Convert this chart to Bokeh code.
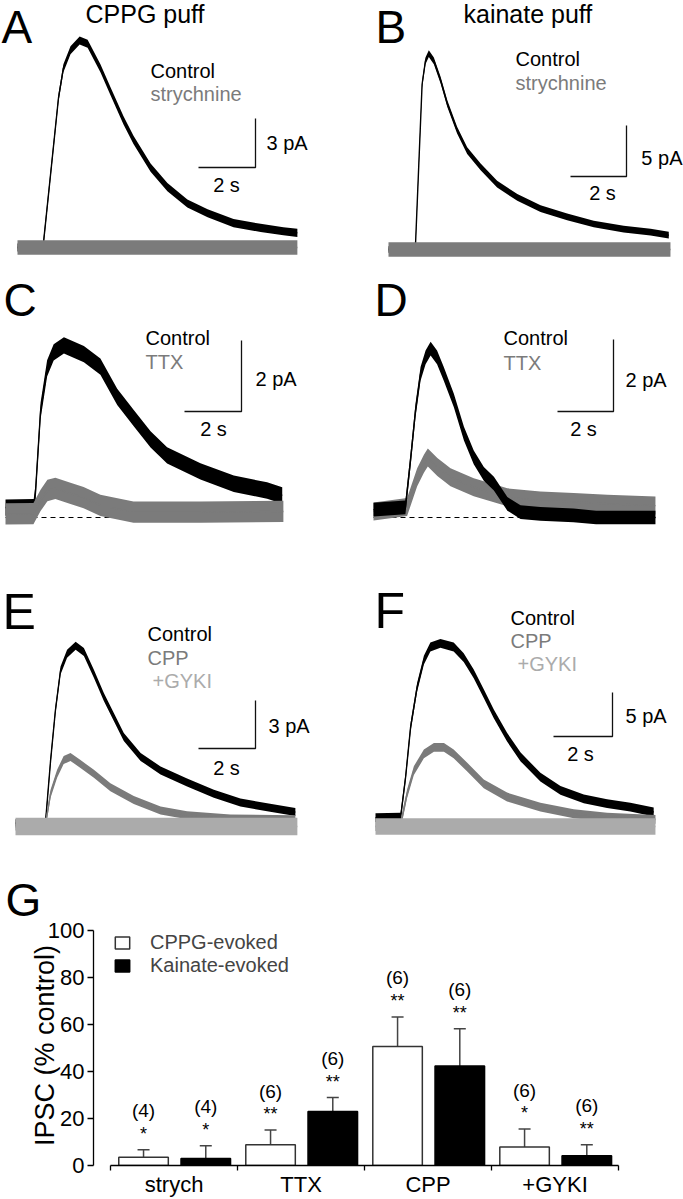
import numpy as np
from bokeh.plotting import figure
from bokeh.models import (Range1d, Label, Whisker, TeeHead, ColumnDataSource,
                          FixedTicker, Legend, LegendItem, Title)
from bokeh.layouts import column, row
from bokeh.embed import file_html
from bokeh.resources import INLINE
from bokeh.core.properties import value

# ---------------- data: traces (time in s, current in pA)
a_ctrl_t = [0, 0.9, 1.44, 1.61, 1.86, 2.18, 2.46, 2.91, 3.26, 3.72, 4.07, 4.67, 5.26, 5.96, 6.67, 7.58, 8.53, 9.33, 9.82]
a_ctrl_i = [0, 0.1, 9.2, 11.0, 12.1, 12.7, 12.5, 11.0, 9.6, 7.8, 6.6, 4.9, 3.7, 2.7, 2.1, 1.5, 1.2, 1.0, 0.9]
a_stry_t = [0, 9.82]
a_stry_i = [0, 0]

b_ctrl_t = [0, 0.96, 1.20, 1.32, 1.44, 1.62, 1.86, 2.10, 2.45, 2.81, 3.29, 3.88, 4.60, 5.43, 6.38, 7.33, 8.40, 9.36, 10.01]
b_ctrl_i = [0, 0.2, 16.2, 18.5, 19.2, 18.5, 16.6, 14.3, 11.7, 9.7, 8.1, 6.4, 5.1, 4.0, 3.2, 2.5, 2.0, 1.7, 1.4]
b_stry_t = [0, 10.07]
b_stry_i = [0, 0]

c_ctrl_t = [0, 0.99, 1.05, 1.23, 1.46, 1.69, 2.05, 2.75, 3.33, 3.92, 4.50, 5.09, 5.67, 6.84, 8.01, 9.18, 9.71]
c_ctrl_i = [0.28, 0.29, 0.68, 3.0, 4.2, 4.65, 4.85, 4.6, 4.25, 3.4, 2.8, 2.2, 1.75, 1.3, 0.95, 0.76, 0.62]
c_ttx_t = [0, 0.98, 1.23, 1.47, 1.75, 2.28, 2.74, 3.33, 4.49, 6.84, 9.75]
c_ttx_i = [0.1, 0.11, 0.48, 0.76, 0.82, 0.68, 0.56, 0.34, 0.15, 0.15, 0.17]

d_ctrl_t = [0, 1.14, 1.32, 1.50, 1.68, 1.86, 2.04, 2.27, 2.51, 2.87, 3.23, 3.58, 3.94, 4.30, 4.78, 5.25, 5.96, 7.14, 7.95, 10.07]
d_ctrl_i = [0.22, 0.28, 1.58, 2.97, 3.99, 4.45, 4.69, 4.45, 3.99, 3.25, 2.33, 1.67, 1.21, 0.94, 0.38, 0.15, 0.10, 0.06, 0.0, 0.0]
d_ttx_t = [0, 1.2, 1.56, 1.80, 1.94, 2.28, 2.75, 3.58, 4.18, 4.78, 5.96, 7.15, 8.35, 10.07]
d_ttx_i = [0.17, 0.29, 1.12, 1.49, 1.67, 1.40, 1.12, 0.84, 0.70, 0.56, 0.47, 0.43, 0.38, 0.33]

e_ctrl_t = [0, 1.05, 1.23, 1.40, 1.58, 1.81, 2.11, 2.40, 2.75, 3.10, 3.45, 3.80, 4.39, 5.09, 6.02, 6.96, 7.89, 8.83, 9.82]
e_ctrl_i = [0.2, 0.2, 4.1, 7.25, 9.75, 10.8, 11.3, 10.9, 9.55, 8.1, 6.85, 5.6, 4.35, 3.5, 2.75, 2.05, 1.5, 1.2, 0.9]
e_cpp_t = [0, 1.05, 1.23, 1.46, 1.69, 1.93, 2.28, 2.75, 3.33, 4.15, 5.09, 6.02, 7.54, 9.82]
e_cpp_i = [0, 0.1, 2.05, 3.3, 4.15, 4.35, 3.9, 3.3, 2.45, 1.65, 1.0, 0.7, 0.5, 0.45]
e_gyki_t = [0, 9.89]
e_gyki_i = [0, 0]

f_ctrl_t = [0, 0.85, 1.02, 1.19, 1.41, 1.64, 1.86, 2.20, 2.65, 2.99, 3.33, 3.67, 4.01, 4.46, 4.92, 5.59, 6.27, 7.06, 7.85, 8.64, 9.43]
f_ctrl_i = [1.0, 1.05, 5.6, 11.3, 15.8, 18.9, 20.4, 20.8, 20.4, 19.2, 17.35, 15.1, 12.8, 10.15, 7.9, 5.6, 4.1, 3.15, 2.6, 2.2, 1.65]
f_cpp_t = [0, 0.85, 1.07, 1.30, 1.64, 1.98, 2.32, 2.65, 3.11, 3.67, 4.46, 5.59, 6.72, 7.85, 9.49]
f_cpp_i = [0, 0.2, 3.7, 6.35, 8.25, 9.0, 9.0, 8.25, 6.75, 4.85, 3.35, 2.2, 1.45, 1.05, 0.8]
f_gyki_t = [0, 9.49]
f_gyki_i = [0, 0]

# ---------------- data: summary bar chart (G)
categories = ["strych", "TTX", "CPP", "+GYKI"]
cppg_mean = [3.5, 8.8, 50.6, 7.9]
cppg_sem = [3.2, 6.3, 12.6, 7.6]
kain_mean = [3.0, 23.0, 42.3, 4.2]
kain_sem = [5.4, 5.9, 15.9, 4.6]
cppg_n = ["(4)", "(6)", "(6)", "(6)"]
kain_n = ["(4)", "(6)", "(6)", "(6)"]
cppg_sig = ["*", "**", "**", "*"]
kain_sig = ["*", "**", "**", "**"]
series_names = ["CPPG-evoked", "Kainate-evoked"]

# ---------------- styles
FONT = "Liberation Sans"
INK = "#000000"
GRAY = "#7b7b7b"
LIGHT = "#ababab"
BAR_LINE = "#333333"


class Panel:
    """A trace panel without axes; pixel layout -> data ranges."""
    def __init__(self, w, h, t0, sx, y0, sy):
        self.t0, self.sx, self.y0, self.sy = t0, sx, y0, sy
        self.p = figure(width=w, height=h,
                        x_range=Range1d(-t0 / sx, (w - t0) / sx),
                        y_range=Range1d(-(h - y0) / sy, y0 / sy),
                        output_backend="svg", toolbar_location=None,
                        x_axis_type=None, y_axis_type=None, min_border=0)
        self.p.outline_line_color = None
        self.p.grid.visible = False

    def pos(self, x, y):
        return (x - self.t0) / self.sx, (self.y0 - y) / self.sy

    def text(self, x, y, s, size=20, color=INK, align="left"):
        dx, dy = self.pos(x, y)
        self.p.add_layout(Label(x=dx, y=dy, text=s, text_font=FONT,
                                text_font_size=f"{size}px", text_color=color,
                                text_align=align, text_baseline="middle"))

    def trace(self, t, i, noise, color):
        t = np.asarray(t, float)
        i = np.asarray(i, float)
        self.p.varea(x=t, y1=i - noise, y2=i + noise, fill_color=color)
        self.p.line(t, i, line_color=color, line_width=1.4)

    def scalebar(self, x, y, dt, di):
        ct, ci = self.pos(x, y)
        self.p.line([ct - dt, ct, ct], [ci, ci, ci + di],
                    line_color="#111111", line_width=1.3)

    def dashed(self, t_end):
        self.p.line([0, t_end], [0, 0], line_dash="5 4",
                    line_color=INK, line_width=1.2)


# ---- A
pa = Panel(341, 262, t0=17, sx=28.5, y0=247, sy=16.3)
pa.trace(a_ctrl_t, a_ctrl_i, 0.25, INK)
pa.trace(a_stry_t, a_stry_i, 0.45, GRAY)
pa.text(1, 26, "A", 46)
pa.text(85, 13, "CPPG puff", 25)
pa.text(150, 70, "Control")
pa.text(150, 93, "strychnine", color=GRAY)
pa.scalebar(255, 167, 2, 3)
pa.text(266, 142, "3 pA")
pa.text(226, 184, "2 s", align="center")

# ---- B
pb = Panel(342, 262, t0=47, sx=28, y0=249, sy=10.2)
pb.trace(b_ctrl_t, b_ctrl_i, 0.33, INK)
pb.trace(b_stry_t, b_stry_i, 0.72, GRAY)
pb.text(34, 26, "B", 46)
pb.text(122, 13, "kainate puff", 25)
pb.text(174, 58, "Control")
pb.text(174, 82, "strychnine", color=GRAY)
pb.scalebar(285, 176, 2, 5)
pb.text(341, 157, "5 pA", align="right")
pb.text(261, 192, "2 s", align="center")

# ---- C
pc = Panel(341, 298, t0=5, sx=28.5, y0=255, sy=35.5)
pc.dashed(c_ttx_t[-1])
pc.trace(c_ctrl_t, c_ctrl_i, 0.23, INK)
pc.trace(c_ttx_t, c_ttx_i, 0.3, GRAY)
pc.text(3, 37, "C", 46)
pc.text(145, 75, "Control")
pc.text(145, 99, "TTX", color=GRAY)
pc.scalebar(241, 149, 2, 2)
pc.text(255, 116, "2 pA")
pc.text(213, 166, "2 s", align="center")

# ---- D
pd = Panel(342, 298, t0=32, sx=28, y0=255, sy=36)
pd.dashed(d_ttx_t[-1])
pd.trace(d_ttx_t, d_ttx_i, 0.25, GRAY)
pd.trace(d_ctrl_t, d_ctrl_i, 0.19, INK)
pd.text(33, 37, "D", 46)
pd.text(162, 75, "Control")
pd.text(162, 100, "TTX", color=GRAY)
pd.scalebar(272, 149, 2, 2)
pd.text(284, 117, "2 pA")
pd.text(242, 166, "2 s", align="center")

# ---- E
pe = Panel(341, 280, t0=15, sx=28.5, y0=266, sy=16)
pe.trace(e_ctrl_t, e_ctrl_i, 0.25, INK)
pe.trace(e_cpp_t, e_cpp_i, 0.25, GRAY)
pe.trace(e_gyki_t, e_gyki_i, 0.55, LIGHT)
pe.text(2, 51, "E", 50)
pe.text(147, 73, "Control")
pe.text(147, 97, "CPP", color=GRAY)
pe.text(152, 120, "+GYKI", color=LIGHT)
pe.scalebar(255, 188, 2, 3)
pe.text(268, 165, "3 pA")
pe.text(226, 207, "2 s", align="center")

# ---- F
pf = Panel(342, 280, t0=34, sx=29.5, y0=266, sy=8.8)
pf.trace(f_ctrl_t, f_ctrl_i, 0.5, INK)
pf.trace(f_cpp_t, f_cpp_i, 0.5, GRAY)
pf.trace(f_gyki_t, f_gyki_i, 0.95, LIGHT)
pf.text(33, 50, "F", 50)
pf.text(169, 57, "Control")
pf.text(169, 80, "CPP", color=GRAY)
pf.text(176, 103, "+GYKI", color=LIGHT)
pf.scalebar(271, 176, 2, 5)
pf.text(284, 155, "5 pA")
pf.text(239, 193, "2 s", align="center")

# ---- G : bar chart
pg = figure(width=683, height=359, x_range=Range1d(-0.134, 4.094),
            y_range=Range1d(0, 102.1), output_backend="svg",
            toolbar_location=None, min_border_left=93, min_border_right=53,
            min_border_top=85, min_border_bottom=30)
pg.outline_line_color = None
pg.grid.visible = False
pg.title = Title(text="G", align="left", offset=-88, standoff=0,
                 text_font=FONT, text_font_size="46px",
                 text_font_style="normal", text_color=INK)

idx = np.arange(len(categories))
src_c = ColumnDataSource(dict(x=idx + 0.26, top=cppg_mean,
                              upper=np.add(cppg_mean, cppg_sem),
                              n=cppg_n, sig=cppg_sig))
src_k = ColumnDataSource(dict(x=idx + 0.75, top=kain_mean,
                              upper=np.add(kain_mean, kain_sem),
                              n=kain_n, sig=kain_sig))

r_c = pg.vbar(x="x", top="top", bottom=0, width=0.39, source=src_c,
              fill_color="white", line_color=BAR_LINE, line_width=1.5)
r_k = pg.vbar(x="x", top="top", bottom=0, width=0.39, source=src_k,
              fill_color=INK, line_color=INK, line_width=1.5)

for src in (src_c, src_k):
    pg.add_layout(Whisker(source=src, base="x", lower="top", upper="upper",
                          line_color="#444444", line_width=1.5,
                          upper_head=TeeHead(size=12, line_color="#444444",
                                             line_width=1.5),
                          lower_head=None))
    pg.text(x="x", y="upper", text="n", source=src, y_offset=-39,
            text_font=value(FONT), text_font_size="19px",
            text_align="center", text_baseline="middle", text_color=INK)
    pg.text(x="x", y="upper", text="sig", source=src, y_offset=-16,
            text_font=value(FONT), text_font_size="18px",
            text_align="center", text_baseline="middle", text_color=INK)

legend = Legend(items=[LegendItem(label=series_names[0], renderers=[r_c]),
                       LegendItem(label=series_names[1], renderers=[r_k])],
                location=(20, 188), glyph_width=18, glyph_height=15,
                label_standoff=19, spacing=0, padding=0, margin=0,
                border_line_color=None, background_fill_alpha=0,
                label_text_font=FONT, label_text_font_size="20px",
                label_height=23)
pg.add_layout(legend)

yax = pg.yaxis[0]
yax.ticker = FixedTicker(ticks=[0, 20, 40, 60, 80, 100])
yax.bounds = (0, 100)
yax.major_tick_out = 6
yax.major_tick_in = 0
yax.minor_tick_line_color = None
yax.axis_line_width = 1.3
yax.major_tick_line_width = 1.3
yax.major_label_standoff = 3
yax.major_label_text_font = FONT
yax.major_label_text_font_size = "22px"
yax.major_label_text_color = INK
yax.axis_label = "IPSC (% control)"
yax.axis_label_text_font = FONT
yax.axis_label_text_font_size = "27px"
yax.axis_label_text_font_style = "normal"
yax.axis_label_text_color = INK
yax.axis_label_standoff = -15

xax = pg.xaxis[0]
xax.ticker = FixedTicker(ticks=list(idx + 0.5), minor_ticks=list(range(len(categories) + 1)))
xax.major_label_overrides = {float(i + 0.5): c for i, c in enumerate(categories)}
xax.bounds = (0, len(categories))
xax.major_tick_line_color = None
xax.major_tick_out = 0
xax.major_tick_in = 0
xax.minor_tick_out = 5
xax.minor_tick_in = 0
xax.minor_tick_line_width = 1.3
xax.axis_line_width = 1.3
xax.major_label_standoff = 1
xax.major_label_text_font = FONT
xax.major_label_text_font_size = "22px"
xax.major_label_text_color = INK

layout = column(row(pa.p, pb.p), row(pc.p, pd.p), row(pe.p, pf.p), pg)

with open("out.html", "w") as fh:
    fh.write(file_html(layout, INLINE))
